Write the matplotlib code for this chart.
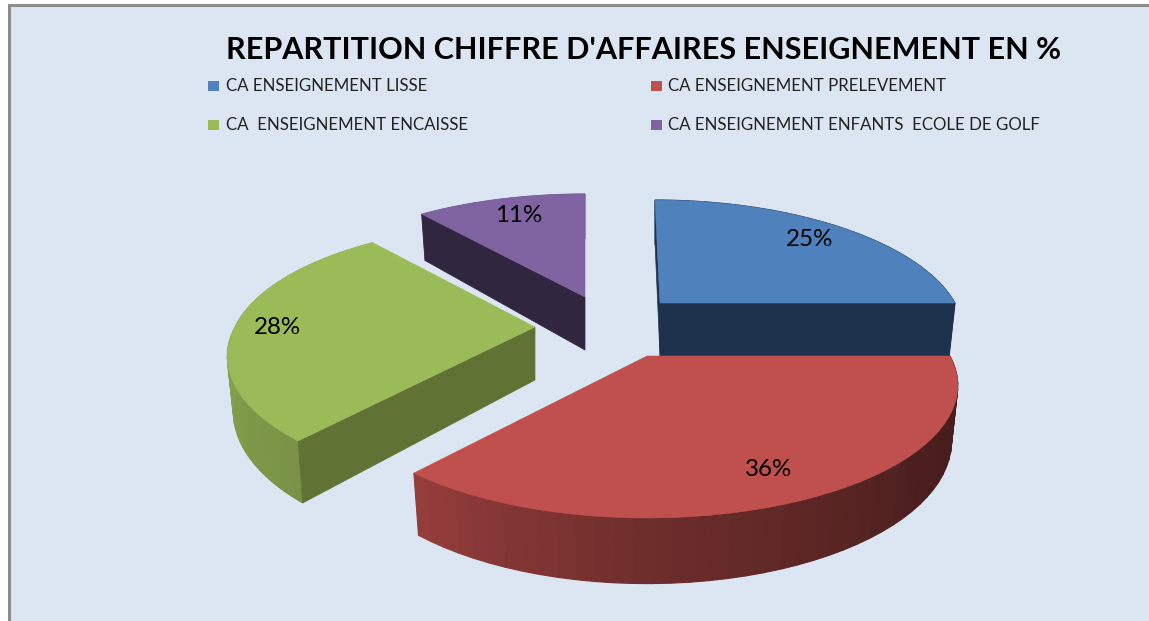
import numpy as np
import matplotlib
matplotlib.use('Agg')
import matplotlib.pyplot as plt
from matplotlib.patches import Polygon, Rectangle

title = "REPARTITION CHIFFRE D'AFFAIRES ENSEIGNEMENT EN %"
labels = ['CA ENSEIGNEMENT LISSE', 'CA ENSEIGNEMENT PRELEVEMENT',
          'CA  ENSEIGNEMENT ENCAISSE', 'CA ENSEIGNEMENT ENFANTS  ECOLE DE GOLF']
values = [25, 36, 28, 11]
colors = ['#4F81BD', '#C0504D', '#9BBB59', '#8064A2']
cut_colors = ['#1F324D', '#1F324D', '#617235', '#312640']

# layout in pixels, the pie is faked with a perspective projection
apex = [(660, 303), (647, 356), (535, 327), (585, 297)]
radius = [295, 303, 300, 300]
lean = [-5, 0, -6, 0]
turn = [0, 0, 1.5, 0]
depth = 53
persp = 0.2227
squash = 125.9
label_pos = [(810, 240), (769, 470), (277, 327), (519, 216)]
legend_pos = [(208, 86), (651, 86), (208, 125), (651, 125)]
draw_order = [3, 0, 2, 1]


def project(theta, i, drop=False):
    u = np.sin(np.radians(theta + turn[i]))
    v = np.cos(np.radians(theta + turn[i]))
    w = 1 + persp * v
    x = radius[i] * u / w + lean[i] * max(v, 0)
    y = -squash * v / w
    if drop:
        return apex[i][0] + 0.98 * x, apex[i][1] + y + depth / w ** 0.85
    return apex[i][0] + x, apex[i][1] + y


def shade(color, f):
    return tuple(min(c * f, 1) for c in matplotlib.colors.to_rgb(color))


def add_cut(theta, i, z):
    ap = apex[i]
    ax.add_patch(Polygon([ap, project(theta, i), project(theta, i, True),
                          (ap[0], ap[1] + depth)],
                         fc=cut_colors[i], ec=cut_colors[i], lw=0.5, zorder=z))


fig = plt.figure(figsize=(11.49, 6.21), dpi=100)
ax = fig.add_axes([0, 0, 1, 1])
ax.set_xlim(0, 1149)
ax.set_ylim(621, 0)
ax.axis('off')

ax.add_patch(Rectangle((9, 5), 1140, 616, fc='#DCE6F2', ec='none'))
ax.plot([9, 9, 1149], [621, 5, 5], color='#8C8C8C', lw=2.2, solid_joinstyle='miter')

ends = np.cumsum(values) / sum(values) * 360
starts = ends - np.array(values) / sum(values) * 360

z = 2
for i in draw_order:
    thetas = np.linspace(starts[i], ends[i], 46)

    # outer wall, darker toward the right
    for a, b in zip(thetas[:-1], thetas[1:]):
        f = np.interp((a + b) / 2, [100, 125, 153, 180, 220, 290],
                      [0.36, 0.38, 0.47, 0.57, 0.78, 0.92])
        c = shade(colors[i], f)
        ax.add_patch(Polygon([project(a, i), project(b, i),
                              project(b, i, True), project(a, i, True)],
                             fc=c, ec=c, lw=0.8, zorder=z))

    # flat cut faces
    if i == 0:
        add_cut(starts[i], i, z)
        add_cut(ends[i], i, z)
    if i in (2, 3):
        add_cut(starts[i], i, z)

    top = [apex[i]] + [project(t, i) for t in thetas]
    ax.add_patch(Polygon(top, fc=colors[i], ec=colors[i], lw=0.4, zorder=z))
    z += 1

for i, (x, y) in enumerate(label_pos):
    ax.text(x, y, f'{values[i]}%', fontsize=17.4, family='Lato', color='black',
            ha='center', va='center', zorder=20)

ax.text(643, 50, title, fontsize=22.0, family='Lato', fontweight='bold',
        color='black', ha='center', va='center', zorder=20)

for i, (x, y) in enumerate(legend_pos):
    ax.add_patch(Rectangle((x, y - 5.5), 10.5, 10.5, fc=colors[i], ec='none', zorder=20))
    ax.text(x + 17.5, y, labels[i], fontsize=12.2, family='Lato', color='#222222',
            ha='left', va='center', zorder=20)

fig.savefig('out.png', dpi=100)
